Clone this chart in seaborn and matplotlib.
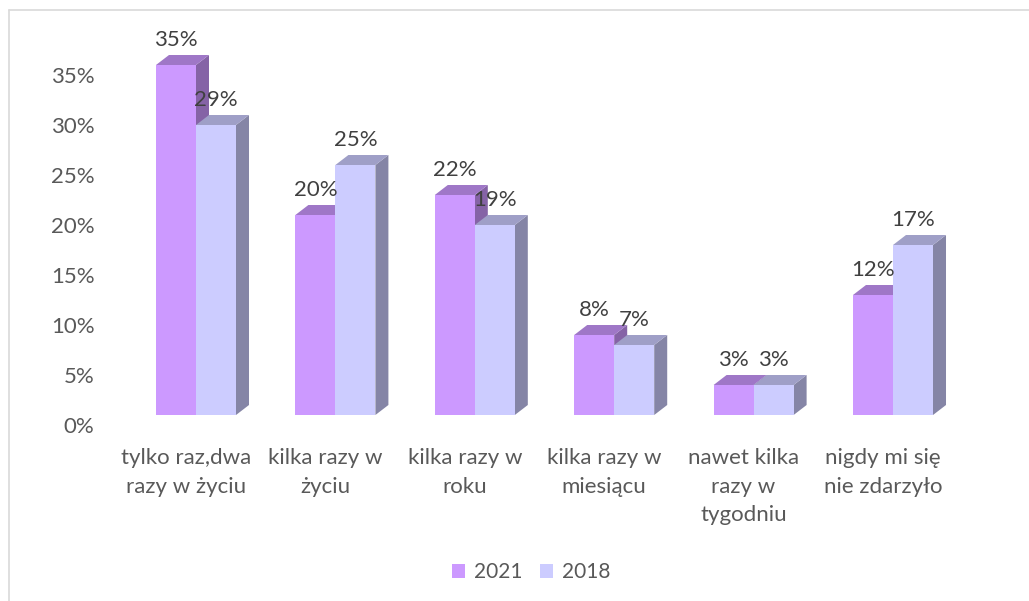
import numpy as np
import pandas as pd
import seaborn as sns
import matplotlib.pyplot as plt
from matplotlib.lines import Line2D
from matplotlib.patches import Polygon
from matplotlib.transforms import ScaledTranslation

categories = [
    'tylko raz,dwa\nrazy w życiu',
    'kilka razy w\nżyciu',
    'kilka razy w\nroku',
    'kilka razy w\nmiesiącu',
    'nawet kilka\nrazy w\ntygodniu',
    'nigdy mi się\nnie zdarzyło',
]
years = ['2021', '2018']
values_2021 = [35, 20, 22, 8, 3, 12]
values_2018 = [29, 25, 19, 7, 3, 17]
yticks = [0, 5, 10, 15, 20, 25, 30, 35]

colors = {'2021': '#CC99FF', '2018': '#CCCCFF'}
W, H = 1029, 601
FS = 16

sns.set_style('white')
plt.rcParams['font.family'] = ['Lato', 'DejaVu Sans']

df = pd.DataFrame({
    'kategoria': categories * 2,
    'rok': ['2021'] * 6 + ['2018'] * 6,
    'udzial': values_2021 + values_2018,
})

fig = plt.figure(figsize=(W / 100, H / 100), dpi=100)
# os: kategorie co 139.4 px, 1% = 10 px, podstawa slupkow na y=415
ax = fig.add_axes([126.3 / W, 1 - 415 / H, 836.4 / W, 400 / H])
sns.barplot(data=df, x='kategoria', y='udzial', hue='rok', hue_order=years,
            palette=colors, width=0.574, gap=0, saturation=1, ax=ax,
            linewidth=0, zorder=3)
ax.set_xlim(-0.5, 5.5)
ax.set_ylim(0, 40)

# efekt 3D: gorna i boczna sciana kazdego slupka
dx = 13 / 139.4
dy = 1.0


def shade(color, factor):
    rgb = np.array(plt.matplotlib.colors.to_rgb(color))
    return tuple(rgb * factor)


for container, year in zip(ax.containers, years):
    for bar in container:
        x0, w, h = bar.get_x(), bar.get_width(), bar.get_height()
        x1 = x0 + w
        top = [(x0, h), (x1, h), (x1 + dx, h + dy), (x0 + dx, h + dy)]
        side = [(x1, 0), (x1 + dx, dy), (x1 + dx, h + dy), (x1, h)]
        ax.add_patch(Polygon(side, closed=True, fc=shade(colors[year], 0.65),
                             ec='none', zorder=2, clip_on=False))
        ax.add_patch(Polygon(top, closed=True, fc=shade(colors[year], 0.78),
                             ec='none', zorder=2, clip_on=False))
        ax.text(x0 + w / 2, h + 2.5, f'{h:.0f}%', ha='center', va='center',
                fontsize=FS, color='#404040', zorder=5)

sns.despine(ax=ax, left=True, bottom=True)
ax.set_xlabel('')
ax.set_ylabel('')
ax.set_yticks(yticks)
ax.set_yticklabels([f'{t}%' for t in yticks], fontsize=FS, color='#595959')
ax.set_xticks(np.arange(6))
ax.set_xticklabels(categories, fontsize=FS, color='#595959', linespacing=1.53)
ax.tick_params(axis='y', length=0, pad=23)
ax.tick_params(axis='x', length=0, pad=24)

# podpisy osi sa przesuniete wzgledem przedniej sciany slupkow (10 px)
shift_y = ScaledTranslation(0, -7.2 / 72, fig.dpi_scale_trans)
shift_x = ScaledTranslation(-7.2 / 72, 0, fig.dpi_scale_trans)
for lab in ax.get_yticklabels():
    lab.set_transform(lab.get_transform() + shift_y)
for lab in ax.get_xticklabels():
    lab.set_transform(lab.get_transform() + shift_x)

handles, labels = ax.get_legend_handles_labels()
ax.legend(handles, labels, loc='center', bbox_to_anchor=(531 / W, 1 - 572 / H),
          bbox_transform=fig.transFigure, ncol=2, frameon=False, fontsize=15,
          handlelength=0.65, handleheight=0.65, handletextpad=0.4,
          columnspacing=0.85, labelcolor='#595959')

# ramka wykresu
frame = '#D9D9D9'
fig.add_artist(Line2D([9 / W, 9 / W], [0, 1 - 10 / H], color=frame, lw=1.2))
fig.add_artist(Line2D([9 / W, 1], [1 - 10 / H, 1 - 10 / H], color=frame, lw=1.2))

fig.savefig('out.png', dpi=100)
